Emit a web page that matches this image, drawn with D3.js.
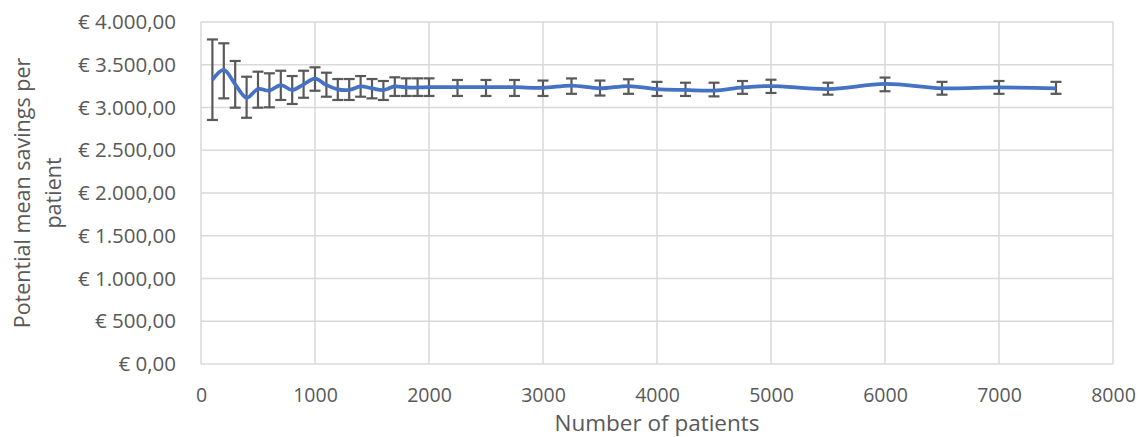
<!DOCTYPE html>
<html><head><meta charset="utf-8">
<script src="https://cdn.jsdelivr.net/npm/d3@7"></script>
<style>body{margin:0;background:#fff}svg{display:block}</style>
</head><body>
<svg id="c" width="1142" height="437"></svg>
<script>
const patients = [100,200,300,400,500,600,700,800,900,1000,1100,1200,1300,1400,1500,1600,1700,1800,1900,2000,2250,2500,2750,3000,3250,3500,3750,4000,4250,4500,4750,5000,5500,6000,6500,7000,7500];
const meanSavings = [3322,3439,3271,3114,3216,3197,3263,3205,3271,3337,3263,3212,3205,3246,3224,3205,3246,3234,3234,3237,3237,3237,3237,3230,3257,3224,3251,3216,3205,3197,3234,3251,3216,3275,3224,3234,3224];
const errLow = [2854,3107,2998,2880,2998,3002,3088,3041,3114,3196,3126,3088,3088,3126,3107,3088,3135,3135,3135,3135,3135,3135,3135,3135,3160,3140,3160,3135,3135,3130,3160,3170,3150,3190,3150,3160,3160];
const errHigh = [3796,3751,3544,3360,3419,3400,3430,3368,3430,3470,3407,3333,3333,3368,3333,3310,3353,3341,3341,3341,3322,3322,3322,3315,3340,3315,3330,3300,3290,3290,3310,3325,3290,3350,3300,3310,3300];
const xTicks = [0,1000,2000,3000,4000,5000,6000,7000,8000];
const yTicks = [0,500,1000,1500,2000,2500,3000,3500,4000];
const yTickLabels = ["€ 0,00","€ 500,00","€ 1.000,00","€ 1.500,00","€ 2.000,00","€ 2.500,00","€ 3.000,00","€ 3.500,00","€ 4.000,00"];

const svg = d3.select("#c");
const font = "'Open Sans', sans-serif";
const x = d3.scaleLinear().domain([0,8000]).range([201,1113]);
const y = d3.scaleLinear().domain([0,4000]).range([364,22]);
const grid = "#d9d9d9", txt = "#595959";

// gridlines
svg.append("g").selectAll("line").data(yTicks).join("line")
  .attr("x1",x(0)).attr("x2",x(8000)).attr("y1",d=>y(d)).attr("y2",d=>y(d))
  .attr("stroke",grid).attr("stroke-width",1.5);
svg.append("g").selectAll("line").data(xTicks).join("line")
  .attr("y1",y(0)).attr("y2",y(4000)).attr("x1",d=>x(d)).attr("x2",d=>x(d))
  .attr("stroke",grid).attr("stroke-width",1.5);

// axes (labels)
const yAxis = d3.axisLeft(y).tickValues(yTicks).tickFormat((d,i)=>yTickLabels[i]).tickSize(0).tickPadding(25);
const gy = svg.append("g").attr("transform",`translate(${x(0)},0)`).call(yAxis);
gy.select(".domain").remove();
gy.selectAll("text").attr("fill",txt).style("font-family",font).style("font-size","20.5px");

const xAxis = d3.axisBottom(x).tickValues(xTicks).tickFormat(d3.format("d")).tickSize(0).tickPadding(24);
const gx = svg.append("g").attr("transform",`translate(0,${y(0)})`).call(xAxis);
gx.select(".domain").remove();
gx.selectAll("text").attr("fill",txt).style("font-family",font).style("font-size","19.5px");

// axis titles
svg.append("text").attr("x",657).attr("y",431).attr("text-anchor","middle")
  .attr("fill",txt).style("font-family",font).style("font-size","22.5px").text("Number of patients");
const yt = svg.append("text").attr("transform","translate(0,193) rotate(-90)").attr("text-anchor","middle")
  .attr("fill",txt).style("font-family",font).style("font-size","21.5px");
yt.append("tspan").attr("x",0).attr("y",30).text("Potential mean savings per");
yt.append("tspan").attr("x",0).attr("y",61).text("patient");

// error bars
const eb = svg.append("g").attr("stroke","#595959").attr("stroke-width",2.2);
patients.forEach((p,i)=>{
  const cx = x(p);
  eb.append("line").attr("x1",cx).attr("x2",cx).attr("y1",y(errHigh[i])).attr("y2",y(errLow[i]));
  eb.append("line").attr("x1",cx-5.5).attr("x2",cx+5.5).attr("y1",y(errHigh[i])).attr("y2",y(errHigh[i]));
  eb.append("line").attr("x1",cx-5.5).attr("x2",cx+5.5).attr("y1",y(errLow[i])).attr("y2",y(errLow[i]));
});

// line
const line = d3.line().x((d,i)=>x(patients[i])).y(d=>y(d)).curve(d3.curveCatmullRom.alpha(0.5));
svg.append("path").datum(meanSavings).attr("d",line).attr("fill","none")
  .attr("stroke","#4472C4").attr("stroke-width",3.75).attr("stroke-linejoin","round");
</script>
</body></html>
